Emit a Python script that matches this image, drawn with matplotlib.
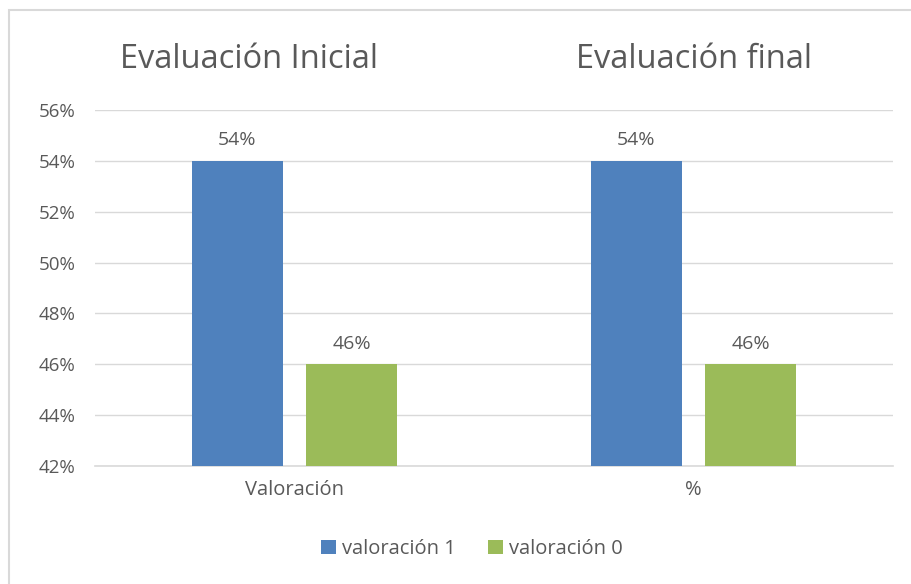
import matplotlib.pyplot as plt
from matplotlib.patches import Rectangle
import numpy as np

# Chart data
categories = ["Valoración", "%"]
group_titles = ["Evaluación Inicial", "Evaluación final"]
series_names = ["valoración 1", "valoración 0"]
valoracion_1 = [54, 54]
valoracion_0 = [46, 46]
y_ticks = [42, 44, 46, 48, 50, 52, 54, 56]

colors = ["#4F81BD", "#9BBB59"]
text_gray = "#595959"
plt.rcParams["font.family"] = ["Open Sans", "DejaVu Sans"]

fig = plt.figure(figsize=(9.11, 5.84), dpi=100)

# outer chart frame (left/top visible)
fig.patches.append(Rectangle((9 / 911, -0.01), 1.0, 1 - 10 / 584 + 0.01,
                             transform=fig.transFigure, fill=False,
                             edgecolor="#D9D9D9", linewidth=1.5))

ax = fig.add_axes([95 / 911, 118 / 584, 798 / 911, 356 / 584])

x = np.arange(len(categories))
width = 0.226
gap = 0.06
offsets = [-(width + gap) / 2, (width + gap) / 2]
base = y_ticks[0]

for vals, off, col, name in zip([valoracion_1, valoracion_0], offsets, colors, series_names):
    bars = ax.bar(x + off, np.array(vals) - base, width, bottom=base, color=col,
                  label=name, zorder=3)
    for b, v in zip(bars, vals):
        ax.text(b.get_x() + b.get_width() / 2, v + 0.45, f"{v}%", ha="center",
                va="bottom", fontsize=14, color=text_gray)

ax.set_xlim(-0.5, 1.5)
ax.set_ylim(y_ticks[0], y_ticks[-1])
ax.set_yticks(y_ticks)
ax.set_yticklabels([f"{t}%" for t in y_ticks], fontsize=13.5, color=text_gray)
ax.set_xticks(x)
ax.set_xticklabels(categories, fontsize=14.5, color=text_gray)
ax.tick_params(axis="both", length=0, pad=10)
ax.tick_params(axis="y", pad=14)
ax.yaxis.grid(True, color="#D9D9D9", linewidth=1, zorder=0)
for s in ["top", "right", "left"]:
    ax.spines[s].set_visible(False)
ax.spines["bottom"].set_color("#D9D9D9")
ax.spines["bottom"].set_linewidth(1.2)

# group titles
for xi, t in zip(x, group_titles):
    px = ax.transData.transform((xi, 0))[0]
    fx = fig.transFigure.inverted().transform((px, 0))[0]
    fig.text(fx - (0.05 if xi == 0 else 0), 1 - 59 / 584, t, ha="center", va="center",
             fontsize=23.5, color=text_gray)

fig.legend(loc="center", bbox_to_anchor=(472 / 911, 1 - 549 / 584), ncol=2,
           frameon=False, fontsize=14.5, labelcolor=text_gray, handlelength=0.75,
           handleheight=0.75, handletextpad=0.3, columnspacing=1.6)

fig.savefig("out.png", dpi=100)
